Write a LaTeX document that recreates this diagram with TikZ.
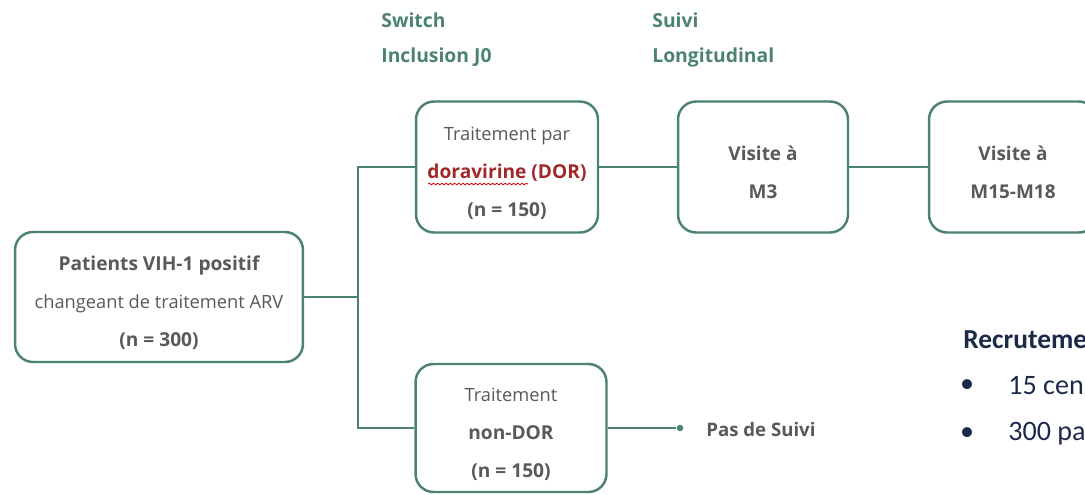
\documentclass[tikz,border=0pt]{standalone}
\usepackage{fontspec}
\setmainfont{Open Sans}
\newfontfamily\recfont{Carlito}
\usetikzlibrary{decorations.pathmorphing}
\definecolor{vert}{HTML}{4C8273}
\definecolor{gristxt}{HTML}{595959}
\definecolor{rougedor}{HTML}{A1282B}
\definecolor{marine}{HTML}{1B2A48}
\newcommand{\gras}[1]{{\fontsize{10.9}{21.5}\selectfont\bfseries #1}}
\newcommand{\haut}[1][15pt]{\rule{0pt}{#1}}% pousse le texte vers le bas
\tikzset{ box/.style = { rectangle % etape
        , rounded corners = 0.36cm
        , draw = vert
        , line width = 1.4pt
        , fill = white
        , align = center
        , text = gristxt
        , font = \fontsize{10.4}{21.5}\selectfont
        }
        , head/.style = { anchor = west % phase
        , inner sep = 0pt
        , text = vert
        , font = \fontsize{11}{13}\selectfont\bfseries
        }
        , rec/.style = { anchor = west % recrutement
        , inner sep = 0pt
        , text = marine
        , font = \recfont\fontsize{16}{18}\selectfont
        }
        }

\begin{document}
\begin{tikzpicture}[x=0.02cm, y=-0.02cm,
        link/.style={draw=vert, line width=1.4pt},
        visit/.style={box, font=\fontsize{10.8}{21.5}\selectfont\bfseries},
        dot/.style={circle, fill=vert, inner sep=0pt, minimum size=0.13cm},
        spell/.style={draw=red!85!black, line width=0.45pt, decorate,
            decoration={snake, amplitude=0.45pt, segment length=2.4pt}}]
        \useasboundingbox (0,0) rectangle (1085,494);
        \clip (0,0) rectangle (1085,494);

        \node [head] (sw) at (381,20) {Switch};
        \node [head] (inc) at (381,57) {Inclusion J0};
        \node [head] (sv) at (652,20) {Suivi};
        \node [head] (lg) at (652,57) {Longitudinal};

        \node [box, minimum width=5.76cm, minimum height=2.6cm] (pat) at (159,297) {\haut\gras{Patients VIH-1 positif}\\changeant de traitement ARV\\\gras{(n = 300)}};
        \node [box, minimum width=3.64cm, minimum height=2.62cm] (dor) at (507,167) {\haut Traitement par\\\textcolor{rougedor}{\gras{doravirine (DOR)}}\\\gras{(n = 150)}};
        \node [box, minimum width=3.82cm, minimum height=2.56cm] (ndor) at (511,428) {\haut Traitement\\\gras{non-DOR}\\\gras{(n = 150)}};
        \node [visit, minimum width=3.4cm, minimum height=2.62cm] (m3) at (763,167) {\haut[14pt]Visite à\\M3};
        \node [visit, minimum width=3.36cm, minimum height=2.62cm] (m15) at (1013,167) {\haut[14pt]Visite à\\M15-M18};
        \draw [spell] (428,184) -- (528,184);

        \coordinate (split) at (358,297);
        \draw [link] (pat) -- (split);
        \draw [link] (dor) -| (split) |- (ndor);
        \draw [link] (dor) -- (m3);
        \draw [link] (m3) -- (m15);

        \node [dot] (fin) at (680,428) {};
        \draw [link] (ndor) -- (fin);
        \node [anchor=west, inner sep=0pt, text=gristxt, font=\fontsize{10.6}{13}\selectfont\bfseries] (pds) at (706,430) {Pas de Suivi};

        \node [rec, font=\recfont\fontsize{15.6}{18}\selectfont\bfseries] (recr) at (963,340) {Recruteme};
        \node [rec, anchor=center] (b1) at (967,386) {•};
        \node [rec] (c1) at (1008,386) {15 cen};
        \node [rec, anchor=center] (b2) at (967,434) {•};
        \node [rec] (c2) at (1008,434) {300 pa};
\end{tikzpicture}
\end{document}
